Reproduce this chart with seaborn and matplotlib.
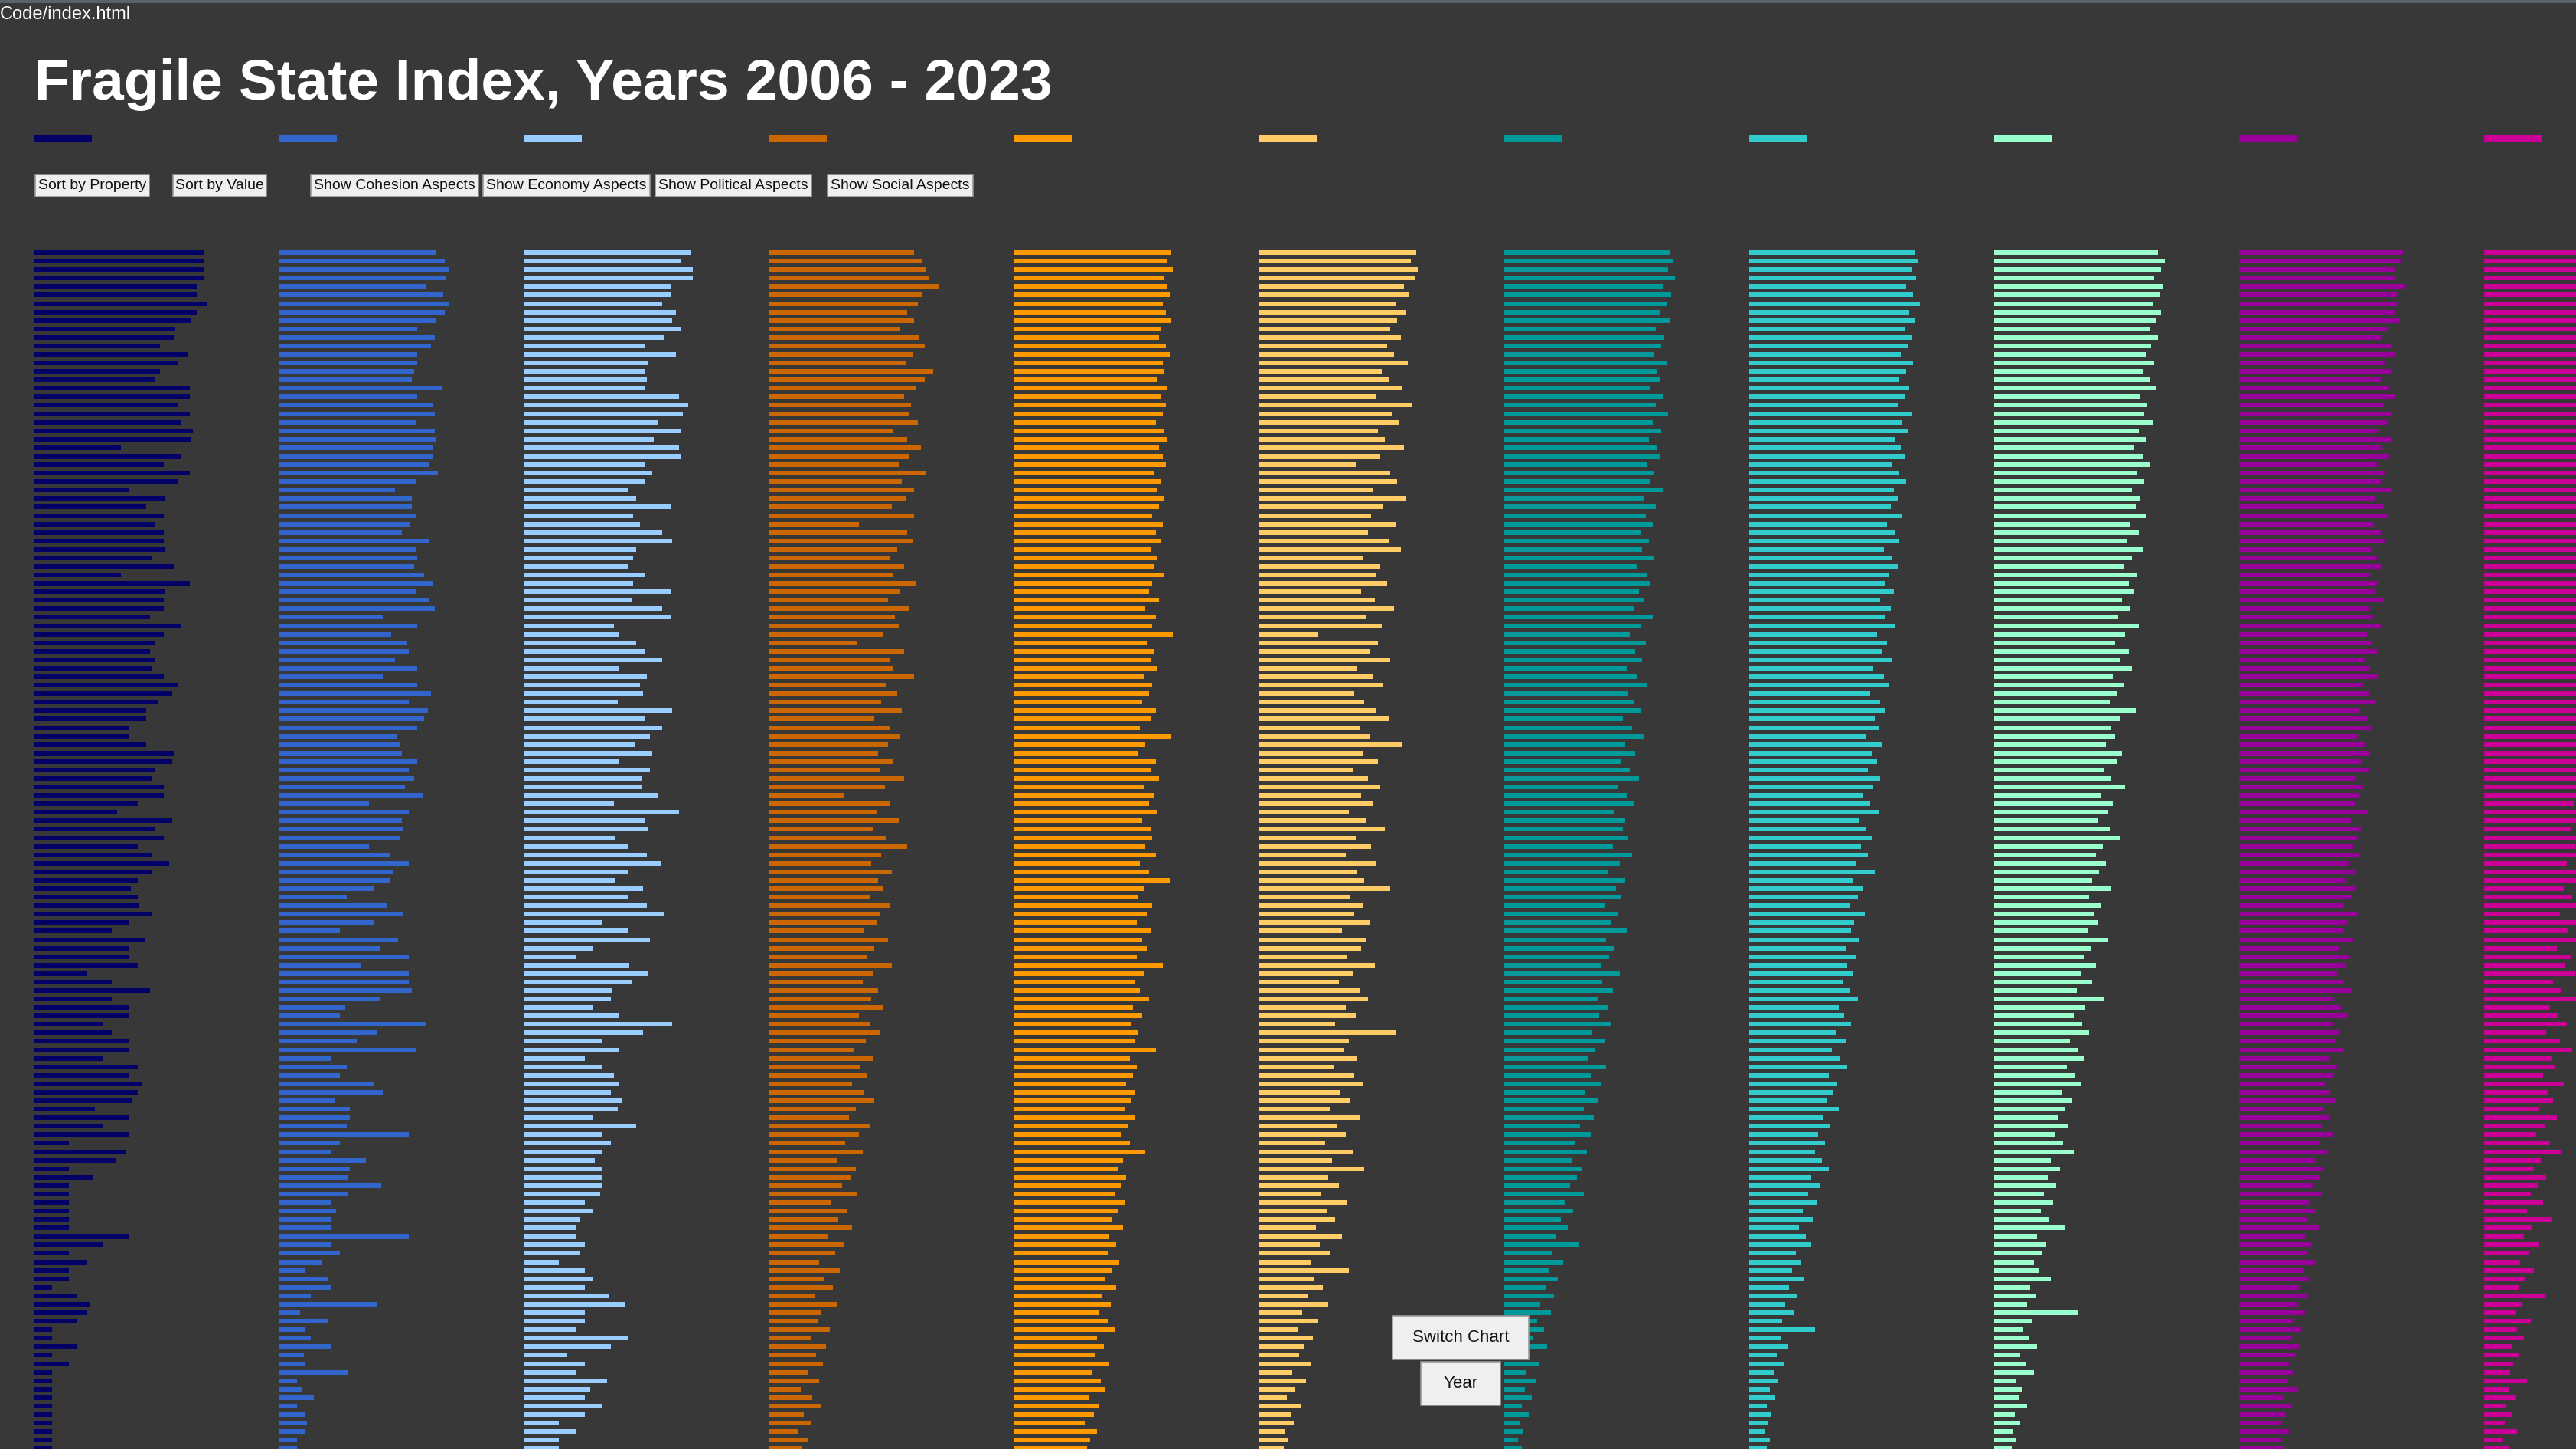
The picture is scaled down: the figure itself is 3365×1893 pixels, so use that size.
import numpy as np
import pandas as pd
import matplotlib
matplotlib.use("Agg")
import matplotlib.pyplot as plt
from matplotlib.patches import Rectangle
import seaborn as sns

W, H = 3365, 1893
BG = "#383838"

# FSI indicators, one column each, rows = countries in rank order
indicators = ["C1", "C2", "C3", "E1", "E2", "E3", "P1", "P2", "P3", "S1", "S2"]
colors = ["#020066", "#3366cc", "#99ccff", "#cc6600", "#ff9900", "#ffcc66",
          "#009999", "#33cccc", "#99ffcc", "#990099", "#cc0099"]

security_apparatus = [
    9.8, 9.8, 9.8, 9.8, 9.4, 9.4, 10.0, 9.4, 9.1, 8.2,
    8.1, 7.3, 8.9, 8.3, 7.3, 7.0, 9.0, 9.0, 8.3, 9.0,
    8.5, 9.2, 9.1, 5.0, 8.5, 7.5, 9.0, 8.3, 5.5, 7.6,
    6.5, 7.5, 7.0, 7.5, 7.5, 7.6, 6.8, 8.1, 5.0, 9.0,
    7.6, 7.5, 7.5, 6.7, 8.5, 7.5, 7.0, 6.7, 7.0, 6.8,
    7.5, 8.3, 8.0, 7.2, 6.5, 6.5, 5.5, 5.5, 6.5, 8.1,
    8.0, 7.0, 6.8, 7.5, 7.5, 6.0, 4.8, 8.0, 7.0, 7.5, 6.0,
    6.8, 7.8, 6.8, 6.0, 5.6, 6.0, 6.1, 6.8, 5.5, 4.5,
    6.4, 5.5, 5.5, 6.0, 3.0, 4.5, 6.7, 4.5, 5.5, 5.5,
    4.0, 4.5, 5.5, 5.5, 4.0, 6.0, 5.5, 6.2, 6.0, 5.7,
    3.5, 5.5, 4.0, 5.5, 2.0, 5.3, 4.7, 2.0, 3.4, 2.0,
    2.0, 2.0, 2.0, 2.0, 2.0, 5.5, 4.0, 2.0, 3.0, 2.0,
    2.0, 1.0, 2.5, 3.2, 3.0, 2.5, 1.0, 1.0, 2.5, 1.0,
    2.0, 1.0, 1.0, 1.0, 1.0, 1.0, 1.0, 1.0, 1.0, 1.0, 1.0,
]
factionalized_elites = [
    9.1, 9.6, 9.8, 9.7, 8.5, 9.5, 9.8, 9.6, 9.1, 8.0,
    9.0, 8.8, 8.0, 8.0, 7.8, 7.7, 9.4, 8.0, 8.9, 9.0,
    7.9, 9.0, 9.1, 8.9, 8.9, 8.7, 9.2, 7.9, 6.7, 7.7,
    7.7, 7.9, 7.6, 7.1, 8.7, 7.9, 8.0, 7.8, 8.4, 8.9,
    7.9, 8.7, 9.0, 6.0, 8.0, 6.5, 7.4, 7.5, 6.7, 8.0,
    6.0, 8.0, 8.8, 7.5, 8.6, 8.4, 8.0, 6.8, 7.0, 7.1,
    8.0, 7.5, 7.8, 7.3, 8.3, 5.2, 7.5, 7.1, 7.2, 7.0, 5.2,
    6.4, 7.5, 6.6, 6.4, 5.5, 3.9, 6.2, 7.2, 5.5, 3.5,
    6.9, 5.8, 7.5, 4.7, 7.5, 7.5, 7.7, 5.8, 3.8, 3.5,
    8.5, 5.7, 4.5, 7.9, 3.0, 3.9, 3.5, 5.5, 6.0, 3.2,
    4.1, 4.1, 3.9, 7.5, 3.5, 3.0, 5.0, 4.1, 4.0, 5.9,
    4.0, 3.0, 3.3, 3.0, 3.0, 7.5, 3.0, 3.5, 2.5, 1.5,
    2.8, 3.0, 1.8, 5.7, 1.2, 2.8, 1.5, 1.8, 3.0, 1.4,
    1.5, 4.0, 1.0, 1.3, 2.0, 1.0, 1.5, 1.6, 1.5, 1.0, 1.0,
]
group_grievance = [
    9.7, 9.1, 9.8, 9.8, 8.5, 8.5, 8.0, 8.8, 8.6, 9.1,
    8.1, 7.0, 8.8, 7.2, 7.0, 7.1, 7.0, 9.0, 9.5, 9.2,
    7.8, 9.1, 7.5, 9.0, 9.1, 7.0, 7.4, 7.0, 6.0, 6.5,
    8.5, 6.3, 6.7, 8.0, 8.6, 6.5, 6.3, 6.0, 7.0, 6.3,
    8.5, 6.2, 8.0, 8.5, 5.2, 5.5, 6.5, 7.0, 8.0, 5.5,
    7.1, 6.7, 6.9, 5.4, 8.6, 7.0, 8.0, 7.3, 6.4, 7.4,
    5.5, 7.3, 6.8, 6.8, 7.8, 5.2, 9.0, 7.0, 7.2, 5.3, 6.0,
    7.1, 7.9, 6.0, 5.3, 6.9, 6.0, 7.1, 8.1, 4.5, 6.0,
    7.3, 4.0, 3.0, 6.1, 7.2, 6.2, 5.1, 5.0, 4.0, 5.5,
    8.6, 6.9, 4.5, 5.5, 3.5, 4.5, 5.2, 5.5, 5.0, 5.7,
    5.4, 4.0, 6.5, 4.5, 5.0, 4.5, 4.1, 4.5, 4.5, 4.5,
    4.4, 3.5, 4.0, 3.2, 3.0, 3.0, 3.5, 3.2, 2.0, 3.5,
    4.0, 3.5, 4.9, 5.8, 3.5, 3.5, 3.0, 6.0, 5.0, 2.5,
    3.5, 3.0, 4.8, 3.8, 3.5, 4.5, 3.5, 2.0, 3.0, 2.0, 2.0,
]
economy = [
    8.4, 8.9, 9.1, 9.3, 9.8, 8.9, 8.6, 8.0, 8.4, 7.6,
    8.7, 9.0, 8.3, 7.9, 9.5, 9.0, 8.5, 7.8, 8.2, 8.1,
    8.6, 7.2, 8.0, 8.8, 8.1, 7.5, 9.1, 7.7, 8.4, 7.9,
    7.1, 8.4, 5.2, 8.0, 8.3, 7.4, 7.0, 7.8, 7.2, 8.5,
    7.6, 6.9, 8.1, 7.3, 7.5, 6.6, 5.1, 7.8, 7.0, 7.2,
    8.4, 6.8, 7.4, 6.5, 7.7, 6.1, 7.0, 7.6, 6.9, 6.3,
    7.2, 6.4, 7.8, 6.7, 4.3, 7.0, 6.2, 7.5, 6.0, 6.8,
    8.0, 6.5, 5.9, 7.1, 6.3, 6.6, 5.8, 7.0, 6.4, 6.2,
    5.5, 6.9, 6.1, 5.7, 7.1, 6.0, 5.4, 6.3, 5.9, 6.6,
    5.2, 5.8, 6.4, 5.6, 4.9, 6.0, 5.3, 5.7, 4.8, 5.5,
    6.1, 5.0, 4.6, 5.8, 5.2, 4.4, 5.4, 3.9, 5.0, 4.7,
    4.2, 5.1, 3.6, 4.5, 4.0, 4.8, 3.4, 4.3, 3.8, 2.9,
    4.1, 3.2, 3.7, 2.6, 3.9, 3.0, 2.8, 3.5, 2.4, 3.3,
    2.7, 3.1, 2.2, 2.9, 1.8, 2.5, 3.0, 2.0, 2.4, 1.7, 2.2, 1.9,
]
economic_inequality = [
    9.1, 8.9, 9.2, 8.7, 8.9, 9.0, 8.6, 8.8, 9.1, 8.5,
    8.4, 8.8, 9.0, 8.6, 8.7, 8.3, 8.9, 8.5, 8.8, 8.6,
    8.2, 8.7, 8.9, 8.4, 8.6, 8.8, 8.1, 8.5, 8.3, 8.7,
    8.4, 8.0, 8.6, 8.2, 8.5, 7.9, 8.3, 8.1, 8.7, 8.0,
    7.8, 8.4, 7.6, 8.2, 8.0, 9.2, 7.7, 8.1, 7.9, 8.3,
    7.5, 8.0, 7.8, 7.4, 8.2, 7.9, 7.3, 9.1, 7.6, 7.2,
    8.2, 7.9, 8.4, 7.5, 8.1, 7.8, 8.3, 7.4, 7.9, 8.0,
    7.6, 8.2, 7.3, 7.8, 9.0, 7.5, 7.2, 8.0, 7.7, 7.1,
    7.9, 7.4, 7.7, 7.1, 8.6, 7.5, 7.0, 7.3, 7.8, 6.9,
    7.4, 6.8, 7.2, 7.0, 8.2, 6.7, 7.1, 6.9, 6.5, 7.0,
    6.8, 6.4, 7.0, 6.6, 6.2, 6.7, 7.6, 6.3, 6.0, 6.5,
    6.2, 5.8, 6.4, 6.0, 5.7, 6.3, 5.5, 5.9, 5.4, 6.1,
    5.7, 5.3, 5.9, 5.1, 5.6, 4.9, 5.4, 5.8, 4.8, 5.2,
    4.7, 5.5, 4.5, 5.0, 5.3, 4.3, 4.9, 4.6, 4.1, 4.8, 4.4, 4.2,
]
human_flight = [
    9.1, 8.8, 9.2, 9.0, 8.4, 8.7, 7.9, 8.5, 8.0, 7.6,
    8.2, 7.4, 7.8, 8.6, 7.1, 7.5, 8.3, 6.8, 8.9, 7.7,
    8.1, 6.9, 7.3, 8.4, 7.0, 5.6, 7.6, 8.0, 6.6, 8.5,
    7.2, 6.5, 7.9, 6.3, 7.5, 8.2, 6.0, 7.0, 6.8, 7.4,
    5.9, 6.7, 7.8, 6.2, 7.1, 3.4, 6.9, 6.4, 7.6, 5.7,
    6.6, 7.2, 5.5, 6.1, 6.8, 7.5, 5.8, 6.4, 8.3, 6.0,
    6.9, 5.4, 6.3, 7.0, 5.9, 6.6, 5.2, 6.2, 7.3, 5.6,
    6.5, 5.0, 6.8, 5.7, 6.1, 7.6, 5.3, 6.0, 5.5, 6.4,
    4.8, 6.2, 5.9, 5.1, 6.7, 5.4, 4.6, 5.8, 6.3, 5.0,
    5.6, 4.4, 7.9, 5.2, 4.9, 5.7, 4.3, 5.5, 6.0, 4.7,
    5.3, 4.1, 5.8, 4.5, 5.0, 3.8, 5.4, 4.2, 6.1, 4.0,
    4.6, 3.6, 5.1, 3.9, 4.4, 3.3, 4.8, 3.5, 4.1, 3.0,
    5.2, 3.2, 3.7, 2.8, 4.0, 2.5, 3.4, 2.2, 3.1, 2.6,
    2.3, 3.0, 1.9, 2.7, 2.1, 1.6, 2.4, 1.8, 2.0, 1.5, 1.7, 1.4,
]
state_legitimacy = [
    9.6, 9.8, 9.5, 9.9, 9.2, 9.7, 9.4, 9.0, 9.6, 8.8,
    9.3, 9.1, 8.7, 9.4, 8.9, 9.0, 8.5, 9.2, 8.8, 9.5,
    8.6, 9.1, 8.4, 8.9, 9.0, 8.3, 8.7, 8.5, 9.2, 8.1,
    8.8, 8.2, 8.6, 7.9, 8.4, 8.0, 8.7, 7.7, 8.3, 8.5,
    7.8, 8.1, 7.5, 8.6, 7.9, 7.3, 8.2, 7.6, 8.0, 7.1,
    7.7, 8.3, 7.2, 7.5, 7.9, 6.9, 7.4, 8.1, 7.0, 7.6,
    6.8, 7.3, 7.8, 6.6, 7.1, 7.5, 6.4, 7.0, 6.9, 7.2,
    6.3, 7.4, 6.7, 6.0, 7.0, 6.5, 6.8, 5.8, 6.6, 6.2,
    7.1, 5.9, 6.4, 6.1, 5.6, 6.7, 5.7, 6.3, 5.4, 6.0,
    5.5, 6.2, 5.1, 5.8, 5.3, 4.9, 5.9, 5.0, 5.6, 4.7,
    5.4, 4.6, 5.2, 4.4, 5.0, 4.1, 4.8, 3.9, 4.5, 4.2,
    3.8, 4.6, 3.5, 4.0, 3.3, 3.7, 3.0, 4.3, 2.8, 3.4,
    2.6, 3.1, 2.4, 2.9, 2.1, 2.7, 1.9, 2.3, 1.7, 2.5,
    1.5, 2.0, 1.3, 1.8, 1.2, 1.6, 1.0, 1.4, 0.9, 1.1, 0.8, 1.0,
]
public_services = [
    9.6, 9.8, 9.4, 9.7, 9.1, 9.5, 9.9, 9.3, 9.6, 9.0,
    9.4, 9.2, 8.8, 9.5, 9.1, 8.7, 9.3, 9.0, 8.6, 9.4,
    8.9, 9.2, 8.5, 8.8, 9.0, 8.3, 8.7, 9.1, 8.4, 8.6,
    8.2, 8.9, 8.0, 8.5, 8.7, 7.8, 8.3, 8.6, 8.1, 7.9,
    8.4, 7.6, 8.2, 7.9, 8.5, 7.4, 8.0, 7.7, 8.3, 7.2,
    7.8, 8.1, 7.0, 7.6, 7.9, 7.3, 7.5, 6.8, 7.7, 7.1,
    7.4, 6.9, 7.6, 7.2, 6.6, 7.0, 7.5, 6.4, 6.8, 7.1,
    6.5, 6.9, 6.2, 7.3, 6.0, 6.6, 6.3, 5.8, 6.7, 6.1,
    5.9, 6.4, 5.6, 6.2, 5.7, 6.0, 5.4, 5.8, 6.3, 5.2,
    5.5, 5.9, 5.0, 5.6, 4.8, 5.3, 5.7, 4.6, 5.1, 4.9,
    4.5, 5.2, 4.3, 4.7, 4.0, 4.4, 3.8, 4.2, 4.6, 3.6,
    4.1, 3.4, 3.9, 3.1, 3.7, 2.9, 3.3, 3.6, 2.7, 3.0,
    2.5, 3.2, 2.3, 2.8, 2.1, 2.6, 1.9, 3.8, 1.8, 2.2,
    1.6, 2.0, 1.4, 1.7, 1.2, 1.5, 1.0, 1.3, 1.1, 0.9, 1.2, 1.0,
]
human_rights = [
    9.5, 9.9, 9.7, 9.3, 9.8, 9.6, 9.2, 9.7, 9.4, 9.0,
    9.5, 9.1, 8.8, 9.3, 8.6, 9.0, 9.4, 8.5, 8.9, 8.7,
    9.2, 8.4, 8.8, 8.1, 8.6, 9.0, 8.3, 8.7, 8.0, 8.5,
    8.2, 8.8, 7.9, 8.4, 7.7, 8.6, 8.0, 7.5, 8.3, 7.8,
    8.1, 7.4, 7.9, 7.2, 8.4, 7.6, 7.0, 7.8, 7.3, 8.0,
    6.9, 7.5, 7.1, 6.7, 8.2, 7.3, 6.8, 7.0, 6.5, 7.4,
    7.1, 6.4, 6.8, 7.6, 6.2, 6.9, 6.6, 6.0, 6.7, 7.3,
    6.3, 5.9, 6.5, 6.1, 5.7, 6.8, 5.5, 6.2, 5.8, 6.0,
    5.4, 6.6, 5.6, 5.2, 5.9, 5.0, 5.7, 4.8, 6.4, 5.3,
    4.6, 5.1, 5.5, 4.4, 4.9, 5.2, 4.2, 4.7, 5.0, 3.9,
    4.5, 4.1, 3.7, 4.3, 3.5, 4.0, 4.6, 3.3, 3.8, 3.1,
    3.6, 2.9, 3.4, 2.7, 3.2, 4.1, 2.5, 3.0, 2.8, 2.3,
    2.6, 3.3, 2.1, 2.4, 1.9, 4.9, 2.2, 1.7, 2.0, 2.5,
    1.5, 1.8, 2.3, 1.3, 1.6, 1.4, 1.9, 1.2, 1.5, 1.1, 1.3, 1.0,
]
demographic_pressures = [
    9.5, 9.4, 9.0, 9.0, 9.6, 9.2, 9.2, 9.0, 9.3, 8.6,
    8.3, 8.8, 9.1, 8.5, 8.9, 8.2, 8.7, 9.0, 8.4, 8.8,
    8.6, 8.1, 8.9, 8.3, 8.7, 8.0, 8.5, 8.2, 8.8, 7.9,
    8.4, 8.6, 7.8, 8.2, 8.5, 7.7, 8.0, 8.3, 7.6, 8.1,
    7.9, 8.4, 7.5, 7.8, 8.2, 7.4, 7.7, 8.0, 7.3, 7.6,
    8.1, 7.2, 7.5, 7.9, 7.0, 7.4, 7.7, 6.9, 7.3, 7.6,
    7.1, 7.5, 6.8, 7.2, 7.0, 6.7, 7.4, 6.5, 7.1, 6.9,
    6.6, 7.0, 6.4, 6.8, 6.2, 6.7, 6.5, 6.0, 6.9, 6.3,
    6.1, 6.6, 5.8, 6.4, 6.2, 5.7, 6.0, 6.5, 5.5, 5.9,
    6.3, 5.4, 5.8, 5.6, 6.0, 5.2, 5.7, 5.5, 5.0, 5.3,
    5.6, 4.9, 5.2, 4.8, 5.4, 4.6, 5.1, 4.4, 4.9, 4.7,
    4.3, 4.8, 4.1, 4.5, 4.0, 4.6, 3.8, 4.2, 3.9, 4.4,
    3.7, 4.1, 3.5, 3.9, 3.4, 3.8, 3.2, 3.6, 3.0, 3.5,
    3.3, 2.9, 3.1, 2.8, 3.4, 2.6, 3.0, 2.7, 2.5, 2.9, 2.4, 2.6,
]
refugees_idps = [
    9.8, 9.7, 9.6, 9.5, 9.9, 9.4, 9.3, 8.8, 9.6, 9.1,
    9.0, 8.7, 9.4, 8.5, 8.9, 9.2, 8.3, 8.6, 9.0, 8.1,
    8.8, 7.9, 8.4, 8.7, 8.0, 7.6, 8.5, 8.2, 7.4, 8.6,
    7.8, 8.3, 7.1, 7.9, 8.1, 6.8, 7.5, 7.7, 6.5, 7.3,
    8.0, 6.6, 7.2, 6.9, 7.6, 6.3, 7.0, 6.7, 5.9, 7.4,
    6.4, 6.8, 5.7, 7.1, 6.2, 6.0, 6.6, 5.5, 6.9, 5.8,
    6.3, 5.4, 7.0, 5.6, 6.1, 5.2, 5.9, 6.5, 5.0, 5.7,
    5.3, 6.0, 4.8, 5.5, 5.8, 4.6, 5.1, 6.2, 4.4, 5.4,
    4.9, 5.6, 4.2, 5.0, 4.7, 5.3, 4.0, 4.5, 5.7, 3.8,
    4.3, 4.8, 3.6, 4.4, 5.1, 3.9, 4.1, 3.4, 4.6, 3.7,
    4.0, 3.2, 4.2, 3.5, 3.0, 3.8, 4.5, 3.3, 2.9, 3.6,
    3.1, 2.7, 3.4, 2.5, 3.9, 2.8, 2.3, 3.2, 2.6, 2.1,
    2.9, 2.4, 2.0, 3.5, 2.2, 1.8, 2.7, 1.9, 2.3, 1.6,
    2.0, 1.7, 1.5, 2.5, 1.4, 1.8, 1.3, 1.6, 1.2, 1.9, 1.1, 1.4,
]

columns = [security_apparatus, factionalized_elites, group_grievance,
           economy, economic_inequality, human_flight,
           state_legitimacy, public_services, human_rights,
           demographic_pressures, refugees_idps]

top_buttons = ["Sort by Property", "Sort by Value", "Show Cohesion Aspects",
               "Show Economy Aspects", "Show Political Aspects", "Show Social Aspects"]
top_button_x = [(46, 195), (226, 348), (406, 625), (631, 849), (856, 1060), (1081, 1271)]

sns.set_theme(style="dark")
plt.rcParams["font.family"] = ["Liberation Sans", "DejaVu Sans"]

fig = plt.figure(figsize=(W / 100, H / 100), dpi=100, facecolor=BG)


def frac(x, y, w, h):
    # pixel box (top-left origin) -> figure fraction rect
    return [x / W, 1 - (y + h) / H, w / W, h / H]


def button(x0, x1, y0, y1, label, size):
    l, b, w, h = frac(x0, y0, x1 - x0, y1 - y0)
    fig.patches.append(Rectangle((l, b), w, h, transform=fig.transFigure,
                                 facecolor="#efefef", edgecolor="#9a9a9a",
                                 linewidth=1.2, zorder=5))
    fig.text(l + w / 2, b + h / 2, label, ha="center", va="center",
             fontsize=size, color="#111111", zorder=6)


# browser bar line at the very top
fig.patches.append(Rectangle((0, 1 - 4 / H), 1, 4 / H, transform=fig.transFigure,
                             facecolor="#5d6268", edgecolor="none"))
fig.text(0, 1 - 25 / H, "Code/index.html", color="white", fontsize=17, va="baseline")
fig.text(45 / W, 1 - 130 / H, "Fragile State Index, Years 2006 - 2023",
         color="white", fontsize=54, fontweight="bold", va="baseline")

for label, (x0, x1) in zip(top_buttons, top_button_x):
    button(x0, x1, 228, 257, label, 14)

COL_X0, COL_STEP, COL_W = 45, 320, 225
ROW0, PITCH = 324.5, 11.08

for i, (vals, c) in enumerate(zip(columns, colors)):
    x0 = COL_X0 + COL_STEP * i
    l, b, w, h = frac(x0, 177, 75, 8)
    fig.patches.append(Rectangle((l, b), w, h, transform=fig.transFigure,
                                 facecolor=c, edgecolor="none"))
    ax = fig.add_axes(frac(x0, ROW0, COL_W, H - ROW0))
    df = pd.DataFrame({"row": np.arange(len(vals)), "value": vals})
    sns.barplot(data=df, x="value", y="row", orient="h", color=c, saturation=1,
                width=6 / PITCH, errorbar=None, linewidth=0, ax=ax)
    ax.set_xlim(0, 10)
    ax.set_ylim((H - ROW0) / PITCH - 0.5, -0.5)
    ax.axis("off")

button(1819, 1997, 1719, 1776, "Switch Chart", 16)
button(1856, 1960, 1779, 1836, "Year", 16)

fig.savefig("out.png", dpi=100, facecolor=BG)
